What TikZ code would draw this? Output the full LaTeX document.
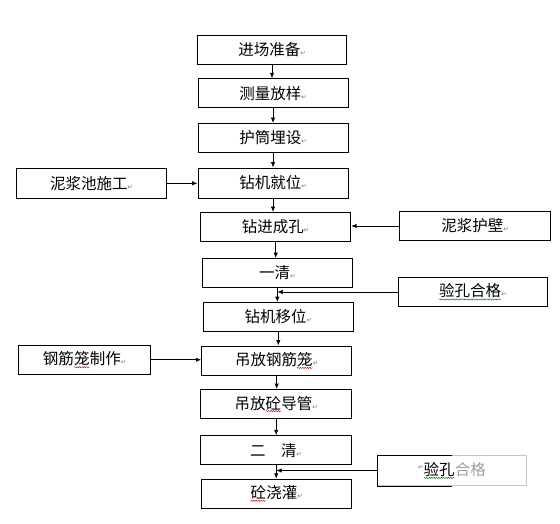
\documentclass[tikz,border=0pt]{standalone}
\usepackage{fontspec}
\setmainfont{Noto Sans CJK SC}
\newfontfamily\markfont{DejaVu Sans}
\usetikzlibrary{arrows.meta, decorations.pathmorphing}
\tikzset{
  flow box/.style={
    draw,
    line width=0.9pt,
    minimum width=150pt,
    minimum height=29pt,
    inner sep=0pt,
    font=\fontsize{15.5}{18}\selectfont,
  },
  flow arrow/.style={
    line width=0.9pt,
    -{Latex[length=5.5pt, width=4.5pt]},
  },
}
\newcommand{\parmark}{{\markfont\fontsize{6.5}{6.5}\selectfont\color{black!55}\char"21B5}}
\newcommand{\spellmark}[2]{\tikz[baseline=(w.base)]{%
  \node[draw=none, fill=none, minimum width=0pt, minimum height=0pt, inner sep=0pt, outer sep=0pt] (w) {#2};
  \draw[#1, line width=0.45pt, decorate, decoration={snake, amplitude=0.6pt, segment length=2.4pt}]
    ([yshift=-1.3pt]w.south west) -- ([yshift=-1.3pt]w.south east);}}

\begin{document}
\begin{tikzpicture}[x=1pt, y=-1pt]
        \useasboundingbox (0,0) rectangle (560,524);

        % main column
        \node[flow box, minimum width=149pt] (prep)   at (272,49.5)   {进场准备\parmark};
        \node[flow box]                      (survey) at (273,93.3)   {测量放样\parmark};
        \node[flow box]                      (casing) at (273,138)    {护筒埋设\parmark};
        \node[flow box, minimum height=30pt] (rig)    at (273,183)    {钻机就位\parmark};
        \node[flow box]                      (drill)  at (275.7,227)  {钻进成孔\parmark};
        \node[flow box]                      (clean1) at (277.3,273)  {一清\parmark};
        \node[flow box]                      (move)   at (278.3,317)  {钻机移位\parmark};
        \node[flow box]                      (cage)   at (276.7,360.5){吊放钢筋\spellmark{red!80!black}{笼}\parmark};
        \node[flow box, minimum width=151pt] (pipe)   at (276.2,404)  {吊放\spellmark{red!80!black}{砼}导管\parmark};
        \node[flow box, minimum width=151pt] (clean2) at (276.2,450.3) {二\hspace{1em}清\parmark};
        \node[flow box]                      (pour)   at (276.7,493.7){\spellmark{red!80!black}{砼}浇灌\parmark};

        % side boxes
        \node[flow box, minimum height=30pt]  (pit)    at (91.7,183.3)  {泥浆池施工\parmark};
        \node[flow box, minimum width=151pt]  (wall)   at (475,226)     {泥浆护壁\parmark};
        \node[flow box, minimum width=149pt]  (check)  at (472.8,292)   {\spellmark{green!50!black}{验孔合格}\parmark};
        \node[flow box, minimum width=132pt]  (make)   at (84.5,359.8)  {钢筋\spellmark{red!80!black}{笼}制作\parmark};
        \node[flow box, minimum width=149pt, minimum height=30pt, draw=gray!45]
                                              (check2) at (452,470.5)
              {\raisebox{6pt}{\parmark}\spellmark{green!50!black}{验孔}\textcolor{gray!75}{合格}};
        \draw[line width=0.9pt] (check2.north) -- (check2.north west) -- (check2.south west) -- (check2.south);

        \coordinate (join1) at (clean1.south |- check);
        \coordinate (join2) at (clean2.south |- check2);

        \draw[flow arrow] (prep)   -- (prep |- survey.north);
        \draw[flow arrow] (survey) -- (survey |- casing.north);
        \draw[flow arrow] (casing) -- (casing |- rig.north);
        \draw[flow arrow] (rig)    -- (rig |- drill.north);
        \draw[flow arrow] (drill)  -- (drill |- clean1.north);
        \draw[flow arrow] (clean1) -- (clean1 |- move.north);
        \draw[flow arrow] (move)   -- (move |- cage.north);
        \draw[flow arrow] (cage)   -- (cage |- pipe.north);
        \draw[flow arrow] (pipe)   -- (pipe |- clean2.north);
        \draw[flow arrow] (clean2) -- (clean2 |- pour.north);

        \draw[flow arrow] (pit)    -- (pit -| rig.west);
        \draw[flow arrow] (wall)   -- (wall -| drill.east);
        \draw[flow arrow] (check)  -- (join1);
        \draw[flow arrow] (make)   -- (make -| cage.west);
        \draw[flow arrow] (check2) -- (join2);
      \end{tikzpicture}
\end{document}
